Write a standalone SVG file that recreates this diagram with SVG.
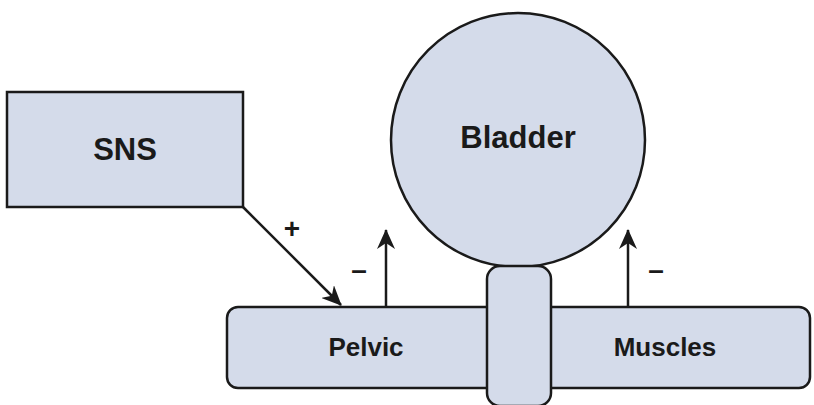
<svg xmlns="http://www.w3.org/2000/svg" width="814" height="405" viewBox="0 0 814 405">
<style>
.shape{fill:#d4dbea;stroke:#1a1a1a;stroke-width:2.5}
.lbl{font-family:"Liberation Sans",Arial,sans-serif;font-weight:bold;fill:#1a1a1a;text-anchor:middle}
.conn{stroke:#1a1a1a;stroke-width:2.5;fill:none}
.sign{font-family:"Liberation Sans",Arial,sans-serif;font-weight:bold;font-size:28px;fill:#1a1a1a;text-anchor:middle}
</style>
<defs>
<marker id="ah2" viewBox="0 0 20 18" refX="19" refY="9" markerWidth="20" markerHeight="18" markerUnits="userSpaceOnUse" orient="auto">
<path d="M0,0 L20,9 L0,18 L6,9 Z" fill="#1a1a1a"/>
</marker>
</defs>
<g id="sns">
<rect class="shape" x="7" y="92" width="236" height="115"/>
<text class="lbl" x="125" y="160" font-size="31">SNS</text>
</g>
<g id="bar">
<rect class="shape" x="227" y="307" width="583" height="81" rx="11"/>
<text class="lbl" x="366" y="356" font-size="26">Pelvic</text>
<text class="lbl" x="665" y="356" font-size="26">Muscles</text>
</g>
<g id="bladder">
<circle class="shape" cx="518" cy="140" r="127"/>
<text class="lbl" x="518" y="148" font-size="31">Bladder</text>
</g>
<g id="neck">
<rect class="shape" x="487" y="266" width="64" height="140" rx="13"/>
</g>
<g id="connectors">
<line class="conn" x1="243" y1="207" x2="341" y2="305" marker-end="url(#ah2)"/>
<line class="conn" x1="386" y1="307" x2="386" y2="230" marker-end="url(#ah2)"/>
<line class="conn" x1="628" y1="307" x2="628" y2="230" marker-end="url(#ah2)"/>
<text class="sign" x="292" y="238">+</text>
<text class="sign" x="359" y="279">–</text>
<text class="sign" x="656" y="279">–</text>
</g>
</svg>
